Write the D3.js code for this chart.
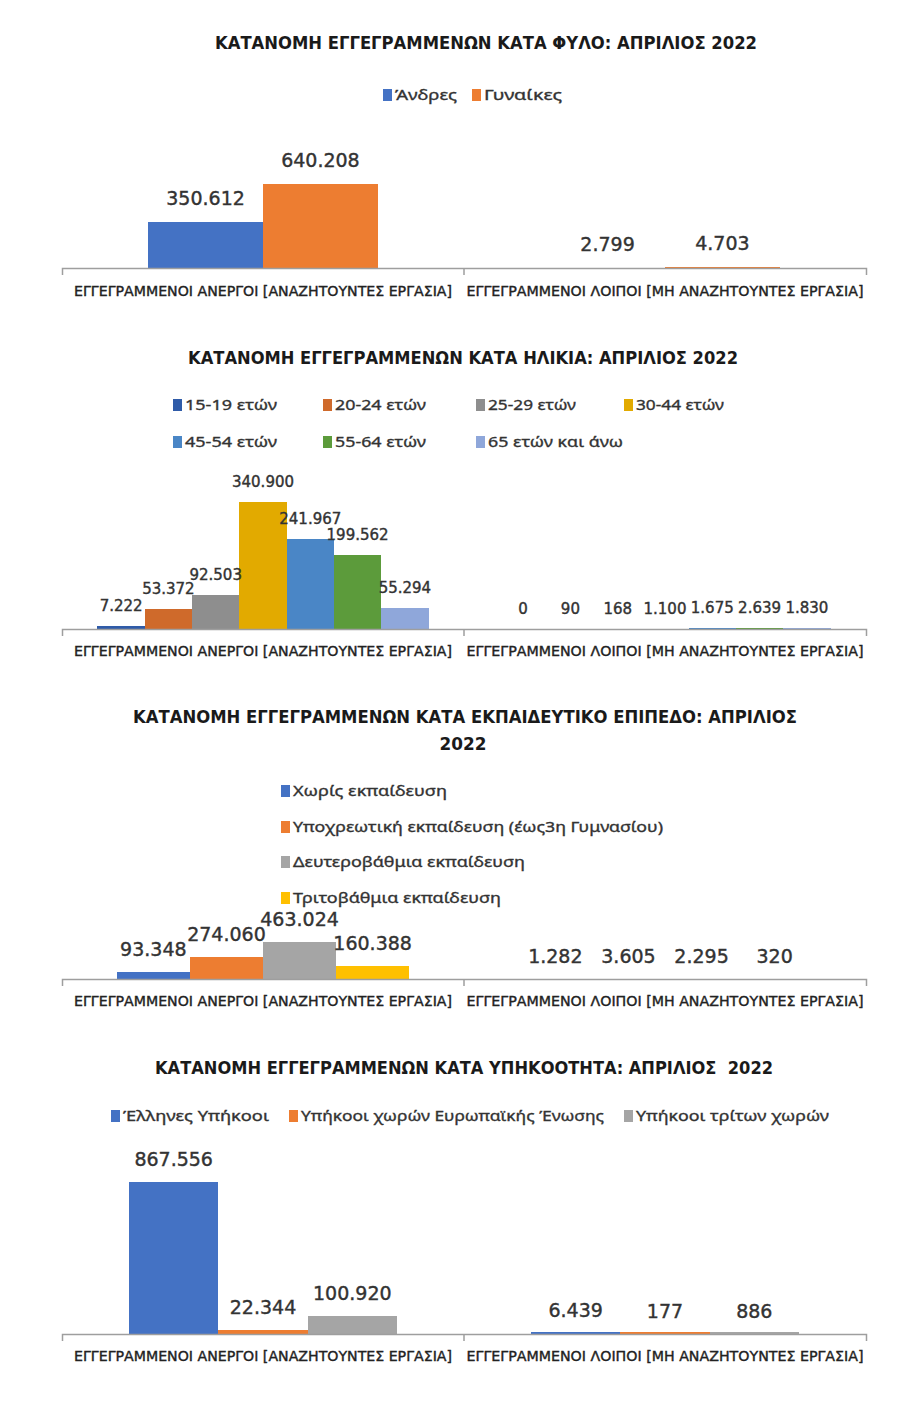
<!DOCTYPE html>
<html><head><meta charset="utf-8">
<script src="https://cdn.jsdelivr.net/npm/d3@7"></script>
<style>
body{margin:0;background:#fff}
svg{display:block}
text{white-space:pre}
</style>
</head><body>
<svg id="c" width="917" height="1409"></svg>
<script>
// ---------- DATA ----------
const categories = [
  "ΕΓΓΕΓΡΑΜΜΕΝΟΙ ΑΝΕΡΓΟΙ [ΑΝΑΖΗΤΟΥΝΤΕΣ ΕΡΓΑΣΙΑ]",
  "ΕΓΓΕΓΡΑΜΜΕΝΟΙ ΛΟΙΠΟΙ [ΜΗ ΑΝΑΖΗΤΟΥΝΤΕΣ ΕΡΓΑΣΙΑ]"
];

const genderTitle = ["ΚΑΤΑΝΟΜΗ ΕΓΓΕΓΡΑΜΜΕΝΩΝ ΚΑΤΑ ΦΥΛΟ: ΑΠΡΙΛΙΟΣ 2022"];
const genderSeries = ["Άνδρες", "Γυναίκες"];
const genderValues = [
  [350612, 2799],
  [640208, 4703]
];

const ageTitle = ["ΚΑΤΑΝΟΜΗ ΕΓΓΕΓΡΑΜΜΕΝΩΝ ΚΑΤΑ ΗΛΙΚΙΑ: ΑΠΡΙΛΙΟΣ 2022"];
const ageSeries = ["15-19 ετών", "20-24 ετών", "25-29 ετών", "30-44 ετών", "45-54 ετών", "55-64 ετών", "65 ετών και άνω"];
const ageValues = [
  [7222, 0],
  [53372, 90],
  [92503, 168],
  [340900, 1100],
  [241967, 1675],
  [199562, 2639],
  [55294, 1830]
];

const eduTitle = ["ΚΑΤΑΝΟΜΗ ΕΓΓΕΓΡΑΜΜΕΝΩΝ ΚΑΤΑ ΕΚΠΑΙΔΕΥΤΙΚΟ ΕΠΙΠΕΔΟ: ΑΠΡΙΛΙΟΣ", "2022"];
const eduSeries = ["Χωρίς εκπαίδευση", "Υποχρεωτική εκπαίδευση (έως3η Γυμνασίου)", "Δευτεροβάθμια εκπαίδευση", "Τριτοβάθμια εκπαίδευση"];
const eduValues = [
  [93348, 1282],
  [274060, 3605],
  [463024, 2295],
  [160388, 320]
];

const natTitle = ["ΚΑΤΑΝΟΜΗ ΕΓΓΕΓΡΑΜΜΕΝΩΝ ΚΑΤΑ ΥΠΗΚΟΟΤΗΤΑ: ΑΠΡΙΛΙΟΣ  2022"];
const natSeries = ["Έλληνες Υπήκοοι", "Υπήκοοι χωρών Ευρωπαϊκής Ένωσης", "Υπήκοοι τρίτων χωρών"];
const natValues = [
  [867556, 6439],
  [22344, 177],
  [100920, 886]
];

const yMaxes = [700000, 400000, 500000, 1000000];

// ---------- STYLE / LAYOUT ----------
const fmt = d3.formatLocale({decimal: ",", thousands: ".", grouping: [3], currency: ["", "€"]}).format(",d");
const svg = d3.select("#c");
const TEXT = "#333333";
const CONDENSED = "'Liberation Sans Narrow','DejaVu Sans Condensed','Roboto Condensed','Liberation Sans',sans-serif";

function drawChart(cfg) {
  const g = svg.append("g");

  // title
  cfg.title.forEach((t, i) => {
    g.append("text")
      .attr("x", cfg.titlePos[i].x).attr("y", cfg.titlePos[i].y + 6)
      .attr("text-anchor", "middle")
      .attr("textLength", cfg.titlePos[i].w).attr("lengthAdjust", "spacingAndGlyphs")
      .style("font-family", CONDENSED).style("font-weight", "bold").style("font-size", "17px")
      .style("fill", "#1a1a1a")
      .text(t);
  });

  // legend
  cfg.series.forEach((s, i) => {
    const p = cfg.legendPos[i];
    g.append("rect").attr("x", p.x).attr("y", p.y - 6).attr("width", 9).attr("height", 12)
      .attr("fill", cfg.colors[i]);
    g.append("text").attr("x", p.x + 12).attr("y", p.y + 5)
      .attr("textLength", p.w).attr("lengthAdjust", "spacingAndGlyphs")
      .style("font-family", "'Noto Sans',sans-serif").style("font-size", "15px")
      .style("fill", TEXT).style("stroke", TEXT).style("stroke-width", "0.35px")
      .text(s);
  });

  const x0 = d3.scaleBand().domain(categories).range([62, 866]).paddingInner(0).paddingOuter(0);
  const x1 = d3.scaleBand().domain(cfg.series).range([0, x0.bandwidth()]).paddingOuter(0.75).paddingInner(0);
  const y = d3.scaleLinear().domain([0, cfg.yMax]).range([cfg.base, cfg.top]);

  const rows = [];
  cfg.series.forEach((s, si) => categories.forEach((c, ci) => {
    rows.push({s, si, c, v: cfg.values[si][ci]});
  }));

  const barH = d => Math.max(cfg.minBar || 0, cfg.base - y(d.v));

  g.selectAll("rect.bar").data(rows).enter().append("rect")
    .attr("class", "bar")
    .attr("x", d => x0(d.c) + x1(d.s))
    .attr("width", x1.bandwidth())
    .attr("y", d => cfg.base - barH(d))
    .attr("height", d => barH(d))
    .attr("shape-rendering", "crispEdges")
    .attr("fill", d => cfg.colors[d.si]);

  g.selectAll("text.val").data(rows).enter().append("text")
    .attr("class", "val")
    .attr("x", d => x0(d.c) + x1(d.s) + x1.bandwidth() / 2)
    .attr("y", d => y(d.v) - cfg.labelOff)
    .attr("text-anchor", "middle")
    .style("font-family", "'DejaVu Sans',sans-serif").style("font-size", cfg.labelSize + "px")
    .style("fill", TEXT).style("stroke", TEXT).style("stroke-width", "0.4px")
    .text(d => fmt(d.v));

  // axis
  const ax = g.append("g").attr("transform", `translate(0,${cfg.base})`)
    .call(d3.axisBottom(x0).tickSize(0).tickSizeOuter(7));
  ax.select(".domain").attr("stroke", "#9e9e9e").attr("stroke-width", 1.5);
  ax.selectAll(".tick text")
    .attr("y", cfg.catOff).attr("dy", null)
    .attr("textLength", (d, i) => cfg.catW[i]).attr("lengthAdjust", "spacingAndGlyphs")
    .style("font-family", CONDENSED).style("font-size", "14px")
    .style("fill", "#222").style("stroke", "#222").style("stroke-width", "0.35px");
  ax.append("line")
    .attr("x1", x0(categories[1])).attr("x2", x0(categories[1]))
    .attr("y1", 0).attr("y2", 7)
    .attr("stroke", "#9e9e9e").attr("stroke-width", 1.5);
}

drawChart({
  title: genderTitle, titlePos: [{x: 486, y: 43, w: 542}],
  series: genderSeries, values: genderValues,
  colors: ["#4472C4", "#ED7D31"],
  legendPos: [{x: 383, y: 95, w: 62}, {x: 472, y: 95, w: 78}],
  yMax: yMaxes[0], base: 268, top: 268 - 91.8,
  labelSize: 19, labelOff: 17, catOff: 28, catW: [378, 397]
});

drawChart({
  title: ageTitle, titlePos: [{x: 463, y: 358, w: 550}],
  series: ageSeries, values: ageValues,
  colors: ["#2F5BA8", "#CF6A2B", "#8E8E8E", "#E2AA00", "#4A86C6", "#5C9B3B", "#8FA7DA"],
  legendPos: [
    {x: 173, y: 405, w: 92}, {x: 323, y: 405, w: 91}, {x: 476, y: 405, w: 88}, {x: 624, y: 405, w: 88},
    {x: 173, y: 442, w: 92}, {x: 323, y: 442, w: 91}, {x: 476, y: 442, w: 135}
  ],
  yMax: yMaxes[1], base: 629, top: 629 - 149,
  labelSize: 15, labelOff: 15, catOff: 27, catW: [378, 397]
});

drawChart({
  title: eduTitle, titlePos: [{x: 465, y: 717, w: 664}, {x: 463, y: 744, w: 47}],
  series: eduSeries, values: eduValues,
  colors: ["#4472C4", "#ED7D31", "#A5A5A5", "#FFC000"],
  legendPos: [
    {x: 281, y: 791, w: 154}, {x: 281, y: 827, w: 370}, {x: 281, y: 862, w: 232}, {x: 281, y: 898, w: 208}
  ],
  yMax: yMaxes[2], base: 979, top: 979 - 40,
  labelSize: 19, labelOff: 16, catOff: 27, catW: [378, 397]
});

drawChart({
  title: natTitle, titlePos: [{x: 464, y: 1068, w: 618}],
  series: natSeries, values: natValues,
  colors: ["#4472C4", "#ED7D31", "#A5A5A5"],
  legendPos: [{x: 111, y: 1116, w: 146}, {x: 289, y: 1116, w: 303}, {x: 624, y: 1116, w: 193}],
  yMax: yMaxes[3], base: 1334, top: 1334 - 175,
  labelSize: 19, labelOff: 16, catOff: 27, catW: [378, 397], minBar: 2
});
</script>
</body></html>
